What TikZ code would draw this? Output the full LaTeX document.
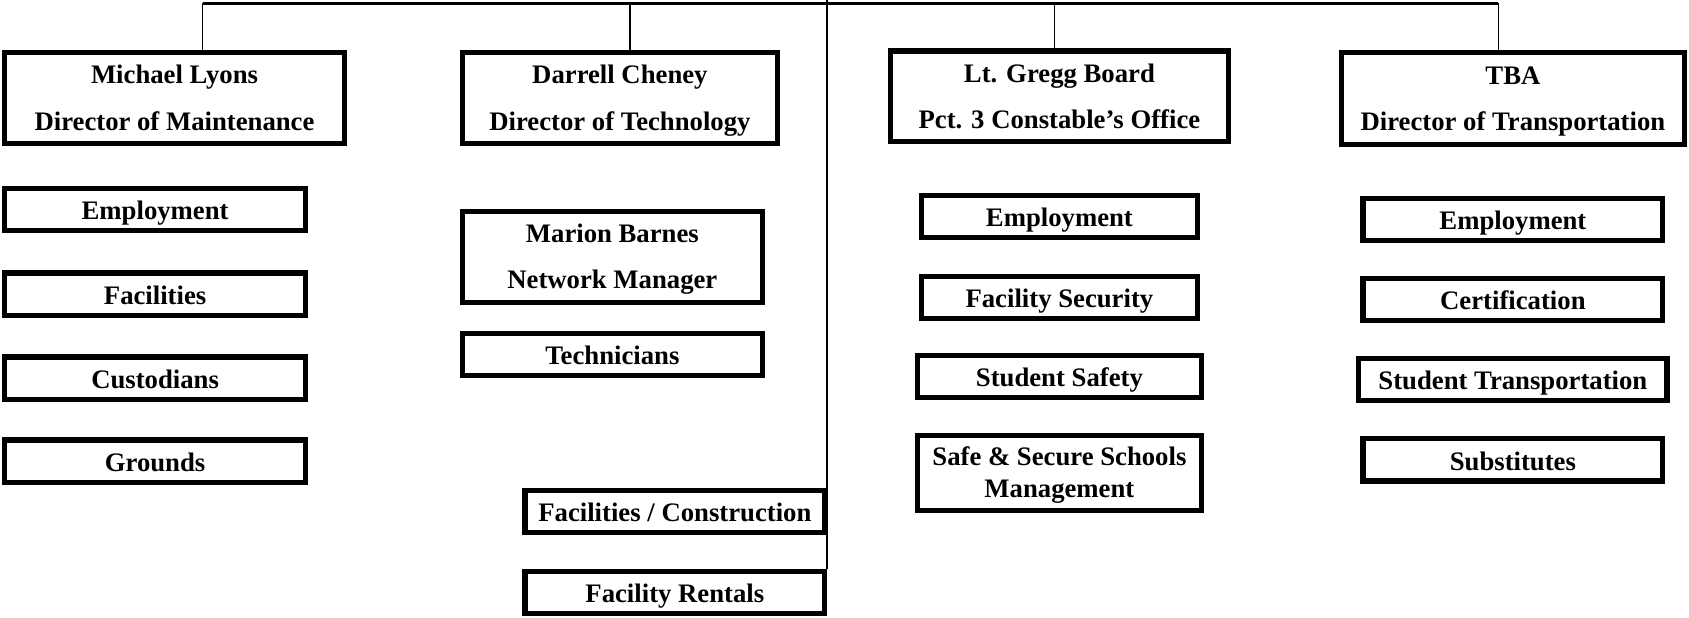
\documentclass[tikz,border=0pt]{standalone}
\usepackage{fontspec}
\setmainfont{Liberation Serif}
\begin{document}
\begin{tikzpicture}[x=0.5pt, y=-0.5pt,
		box/.style={draw, line width=2.4pt, align=center, inner sep=0pt,
			font=\bfseries\fontsize{12.4}{15}\selectfont},
		head/.style={box, minimum height=42.6pt, text height=32.7pt, text depth=3pt},
		sub/.style={box, minimum height=19.6pt, text height=12.3pt, text depth=2.8pt},
		link/.style={line width=0.8pt}]
	\useasboundingbox (0,0) rectangle (1568,573);
	% directors
	\node[head, minimum width=157.6pt] (lyons) at (162,91) {Michael Lyons\\[6.5pt]Director of Maintenance};
	\node[head, minimum width=146.1pt] (cheney) at (575.5,91) {Darrell Cheney\\[6.5pt]Director of Technology};
	\node[head, minimum width=157.1pt, minimum height=42.1pt] (board) at (983.5,89.5) {Lt. Gregg Board\\[6.5pt]Pct. 3 Constable’s Office};
	\node[head, minimum width=159.1pt] (tba) at (1404.5,91.5) {TBA\\[6.5pt]Director of Transportation};
	
	% maintenance
	\foreach \name/\y/\txt in {mEmp/194.5/Employment, mFac/273/Facilities, mCust/351/Custodians, mGround/428/Grounds}
	\node[sub, minimum width=139.6pt] (\name) at (144,\y) {\txt};
	
	% technology
	\node[head, minimum width=139.1pt, minimum height=42.1pt] (barnes) at (568.5,238.5) {Marion Barnes\\[6.5pt]Network Manager};
	\node[sub, minimum width=139.1pt] (tech) at (568.5,329) {Technicians};
	\node[sub, minimum width=139.1pt] (construct) at (626.5,475) {Facilities / Construction};
	\node[sub, minimum width=139.1pt] (rentals) at (626.5,550) {Facility Rentals};
	
	% constable
	\foreach \name/\y/\txt in {cEmp/201/Employment, cSec/276/Facility Security}
	\node[sub, minimum width=128.1pt] (\name) at (983.5,\y) {\txt};
	\node[sub, minimum width=132.1pt] (cSafe) at (983.5,349.5) {Student Safety};
	\node[box, minimum width=132.1pt, minimum height=34.6pt, text height=26.2pt, text depth=3pt] (cSchools) at (983.5,439) {Safe \& Secure Schools\\Management};
	
	% transportation
	\foreach \name/\y/\txt in {tEmp/204/Employment, tCert/278/Certification, tSubs/427/Substitutes}
	\node[sub, minimum width=139.1pt] (\name) at (1404.5,\y) {\txt};
	\node[sub, minimum width=143.1pt] (tStud) at (1404.5,352.5) {Student Transportation};
	
	% connectors
	\coordinate (bar1) at (188,3);
	\coordinate (bar2) at (585,3);
	\coordinate (bar3) at (979,3);
	\coordinate (bar4) at (1391,3);
	\coordinate (spine) at (768,0);
	\draw[line width=1.2pt] (bar1) -- (bar4);
	\draw[link] (bar1) -- (bar1 |- lyons.north);
	\draw[link] (bar2) -- (bar2 |- cheney.north);
	\draw[link] (bar3) -- (bar3 |- board.north);
	\draw[link] (bar4) -- (bar4 |- tba.north);
	\draw[link] (spine) -- (spine |- rentals.north);
\end{tikzpicture}
\end{document}
